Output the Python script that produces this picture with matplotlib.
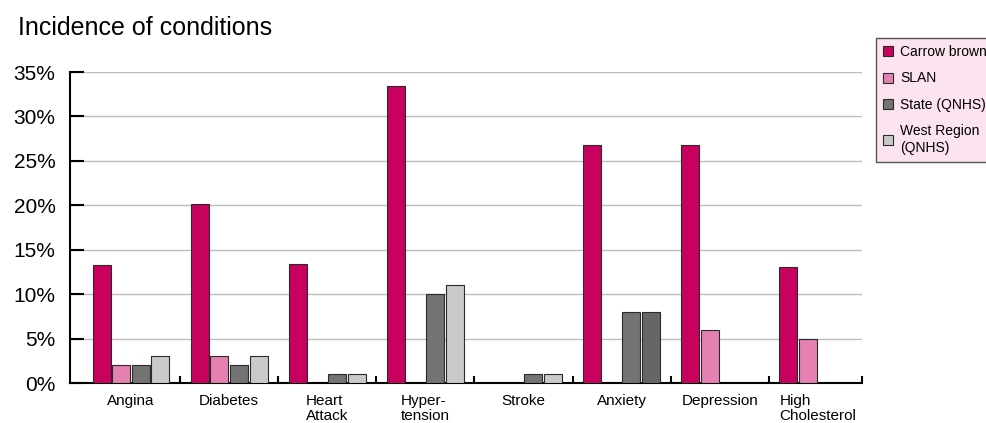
import matplotlib.pyplot as plt
import numpy as np

plt.rcParams['font.family'] = ['Liberation Sans', 'DejaVu Sans']

condiciones = ["Angina", "Diabetes", "Heart\nAttack", "Hyper-\ntension", "Stroke",
               "Anxiety", "Depression", "High\nCholesterol"]

carrow_brown = [13.3, 20.1, 13.4, 33.4, 0, 26.8, 26.8, 13.1]
slan = [2, 3, 0, 0, 0, 0, 6, 5]
state_qnhs = [2, 2, 1, 10, 1, 8, 0, 0]
west_region_qnhs = [3, 3, 1, 11, 1, 8, 0, 0]

series = ["Carrow brown", "SLAN", "State (QNHS)", "West Region\n(QNHS)"]
colores = ['#c8005e', '#e580b2', '#737373', '#c9c9c9']

fig = plt.figure(figsize=(9.86, 4.23), dpi=100)
ax = fig.add_axes([70 / 986, 1 - 383 / 423, 792 / 986, 311 / 423])

x = np.arange(len(condiciones))
ancho = 0.183
desplazamientos = [-0.3, -0.1, 0.1, 0.3]

handles = []
for valores, color, nombre, d in zip(
    [carrow_brown, slan, state_qnhs, west_region_qnhs], colores, series, desplazamientos
):
    valores = np.array(valores, dtype=float)
    mask = valores > 0
    cols = [color] * len(valores)
    # en el original la barra de West Region en Anxiety sale oscura
    if nombre.startswith("West"):
        cols[5] = '#666666'
    cols = [c for c, m in zip(cols, mask) if m]
    ax.bar(x[mask] + d, valores[mask], width=ancho, color=cols,
           edgecolor='#2a2a2a', linewidth=0.8, zorder=3)
    handles.append(plt.Rectangle((0, 0), 1, 1, facecolor=color,
                                 edgecolor='#2a2a2a', linewidth=0.8))

ax.set_xlim(-0.622, 7.45)
ax.set_ylim(0, 35)
ax.set_yticks(np.arange(0, 36, 5))
ax.set_yticklabels([f"{v}%" for v in range(0, 36, 5)], fontsize=15)
ax.tick_params(axis='y', direction='in', length=10, width=1.5, pad=10.5, colors='black')

ax.set_xticks(x)
ax.set_xticklabels(condiciones, fontsize=11, multialignment='left', linespacing=1.1)
ax.tick_params(axis='x', length=0, pad=8)
ax.set_xticks(list(np.arange(0.5, 7, 1)) + [7.45], minor=True)
ax.tick_params(axis='x', which='minor', direction='in', length=5, width=1.5)

ax.yaxis.grid(True, color='#bdbdbd', linewidth=1, zorder=0)
ax.set_axisbelow(True)
for lado in ['top', 'right']:
    ax.spines[lado].set_visible(False)
ax.spines['left'].set_linewidth(1.5)
ax.spines['bottom'].set_linewidth(1.5)

fig.text(18 / 986, 1 - 35 / 423, "Incidence of conditions", fontsize=18)

leg = fig.legend(handles, series, loc='upper left',
                 bbox_to_anchor=(876 / 986, 1 - 38 / 423), fontsize=10,
                 handlelength=0.75, handleheight=0.75, handletextpad=0.5,
                 labelspacing=0.9, borderpad=0.5, borderaxespad=0,
                 fancybox=False, frameon=True)
leg.get_frame().set_facecolor('#fbe4ef')
leg.get_frame().set_edgecolor('#555555')
leg.get_frame().set_linewidth(1)
leg.get_frame().set_alpha(1)

fig.savefig("out.png", dpi=100)
